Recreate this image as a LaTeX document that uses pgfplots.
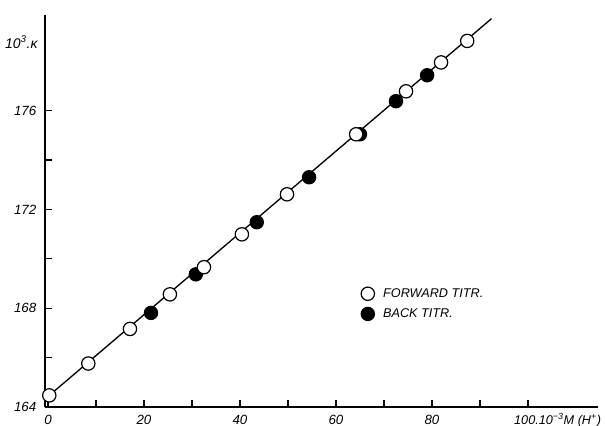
\documentclass[border=0pt]{standalone}
\usepackage{fontspec}
\setmainfont{Liberation Sans}
\usepackage{pgfplots}
\pgfplotsset{compat=1.18}
\begin{document}
\begin{tikzpicture}
\begin{axis}[
  scale only axis, width=414.75pt, height=294pt,
  xmin=-0.625, xmax=114.6, ymin=164, ymax=179.87,
  axis lines=left, axis line style={-, line width=1pt},
  xtick={0,20,40,60,80,100}, xticklabels={0,20,40,60,80,{}},
  minor xtick={10,30,50,70,90},
  ytick={164,168,172,176}, minor ytick={166,170,174},
  tick align=inside, major tick length=5pt, minor tick length=5pt,
  tick style={line width=0.9pt, black},
  /pgf/number format/assume math mode=true,
  tick label style={font=\itshape\fontsize{10}{11}\selectfont},
  yticklabel style={xshift=-3pt},
  xticklabel style={anchor=base, yshift=-13pt},
  clip=false,
  reverse legend,
  legend style={draw=none, fill=none, at={(0.564,0.317)}, anchor=north west,
    font=\itshape\fontsize{9.5}{10}\selectfont, row sep=3pt, column sep=4.5pt, cells={anchor=west}},
]
\addplot[line width=1pt, forget plot] coordinates {(0.27,164.47) (92.4,179.72)};
\addplot[only marks, mark=*, mark size=5pt, mark options={fill=black, draw=black, line width=0.8pt}] coordinates {
(21.46,167.81) (30.8,169.37) (43.5,171.48) (54.4,173.30) (65.0,175.04) (72.5,176.38) (79.0,177.43)};
\addlegendentry{BACK TITR.}
\addplot[only marks, mark=*, mark size=5pt, mark options={fill=white, draw=black, line width=0.9pt}] coordinates {
(0.27,164.47) (8.40,165.76) (17.08,167.16) (25.4,168.56) (32.5,169.66) (40.4,170.99) (49.8,172.61) (64.2,175.04) (74.6,176.78) (81.9,177.95) (87.35,178.82)};
\addlegendentry{FORWARD TITR.}
\node[anchor=east, font=\itshape\fontsize{10.5}{11}\selectfont] at ([xshift=-2pt]rel axis cs:0,0.931) {10\textsuperscript{3}.κ};
\node[anchor=base west, inner sep=0pt, font=\itshape\fontsize{9.5}{11}\selectfont] at ([xshift=-10.5pt,yshift=-13pt]axis cs:100,164) {100.10\textsuperscript{−3}M (H\textsuperscript{+})};
\coordinate (ll) at (rel axis cs:0,0);
\coordinate (ur) at (rel axis cs:1,1);
\end{axis}
\pgfresetboundingbox
\path ([shift={(-33.75pt,-14.25pt)}]ll) rectangle ([shift={(5.25pt,11.25pt)}]ur);
\end{tikzpicture}
\end{document}
